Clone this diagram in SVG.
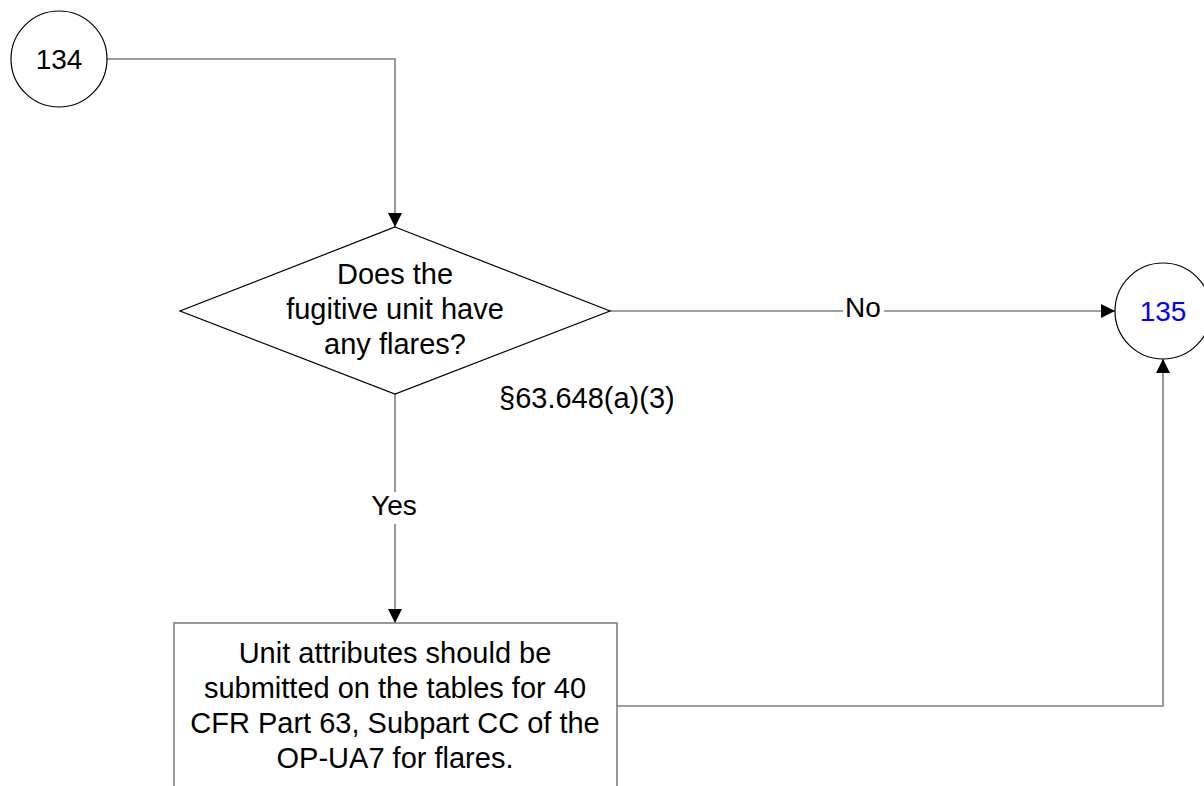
<svg xmlns="http://www.w3.org/2000/svg" width="1204" height="786" viewBox="0 0 1204 786">
<style>
  .shape { fill: #ffffff; stroke: #000000; stroke-width: 1.2; }
  .box { fill: #ffffff; stroke: #6e6e6e; stroke-width: 1.4; }
  .conn { fill: none; stroke: #808080; stroke-width: 1.6; }
  .t { font-family: "Liberation Sans", Arial, sans-serif; font-size: 29px; fill: #000000; text-anchor: middle; }
  .lbl { font-family: "Liberation Sans", Arial, sans-serif; font-size: 28px; fill: #000000; text-anchor: middle; }
</style>
<defs>
  <marker id="arrow" viewBox="0 0 14 14" refX="14" refY="7" markerWidth="14" markerHeight="14" markerUnits="userSpaceOnUse" orient="auto">
    <path d="M0,0 L14,7 L0,14 Z" fill="#000000"/>
  </marker>
</defs>
<rect width="1204" height="786" fill="#ffffff"/>
<g id="connectors">
  <path class="conn" d="M107,59 H395 V227" marker-end="url(#arrow)"/>
  <path class="conn" d="M610,311 H1115" marker-end="url(#arrow)"/>
  <path class="conn" d="M395,394 V623" marker-end="url(#arrow)"/>
  <path class="conn" d="M617,706 H1163 V359" marker-end="url(#arrow)"/>
  <rect x="843" y="296" width="41" height="30" fill="#ffffff"/>
  <text class="lbl" x="863" y="317">No</text>
  <rect x="368" y="492" width="54" height="32" fill="#ffffff"/>
  <text class="lbl" x="394" y="515">Yes</text>
</g>
<g id="node-134">
  <circle class="shape" cx="59" cy="59" r="48"/>
  <text class="lbl" x="59" y="69">134</text>
</g>
<g id="node-decision">
  <polygon class="shape" points="395,227 610,311 395,394 180,311"/>
  <text class="t" x="395" y="284">Does the</text>
  <text class="t" x="395" y="319">fugitive unit have</text>
  <text class="t" x="395" y="354">any flares?</text>
  <text x="499" y="408" font-family="Liberation Sans, Arial, sans-serif" font-size="29px" fill="#000000">§63.648(a)(3)</text>
</g>
<g id="node-135">
  <circle class="shape" cx="1163" cy="311" r="48"/>
  <text class="lbl" x="1163" y="321" fill="#0000ff" style="fill:#0000ff">135</text>
</g>
<g id="node-box">
  <rect class="box" x="174" y="623" width="443" height="200"/>
  <text class="t" x="395" y="663">Unit attributes should be</text>
  <text class="t" x="395" y="698">submitted on the tables for 40</text>
  <text class="t" x="395" y="733">CFR Part 63, Subpart CC of the</text>
  <text class="t" x="395" y="768">OP-UA7 for flares.</text>
</g>
</svg>
